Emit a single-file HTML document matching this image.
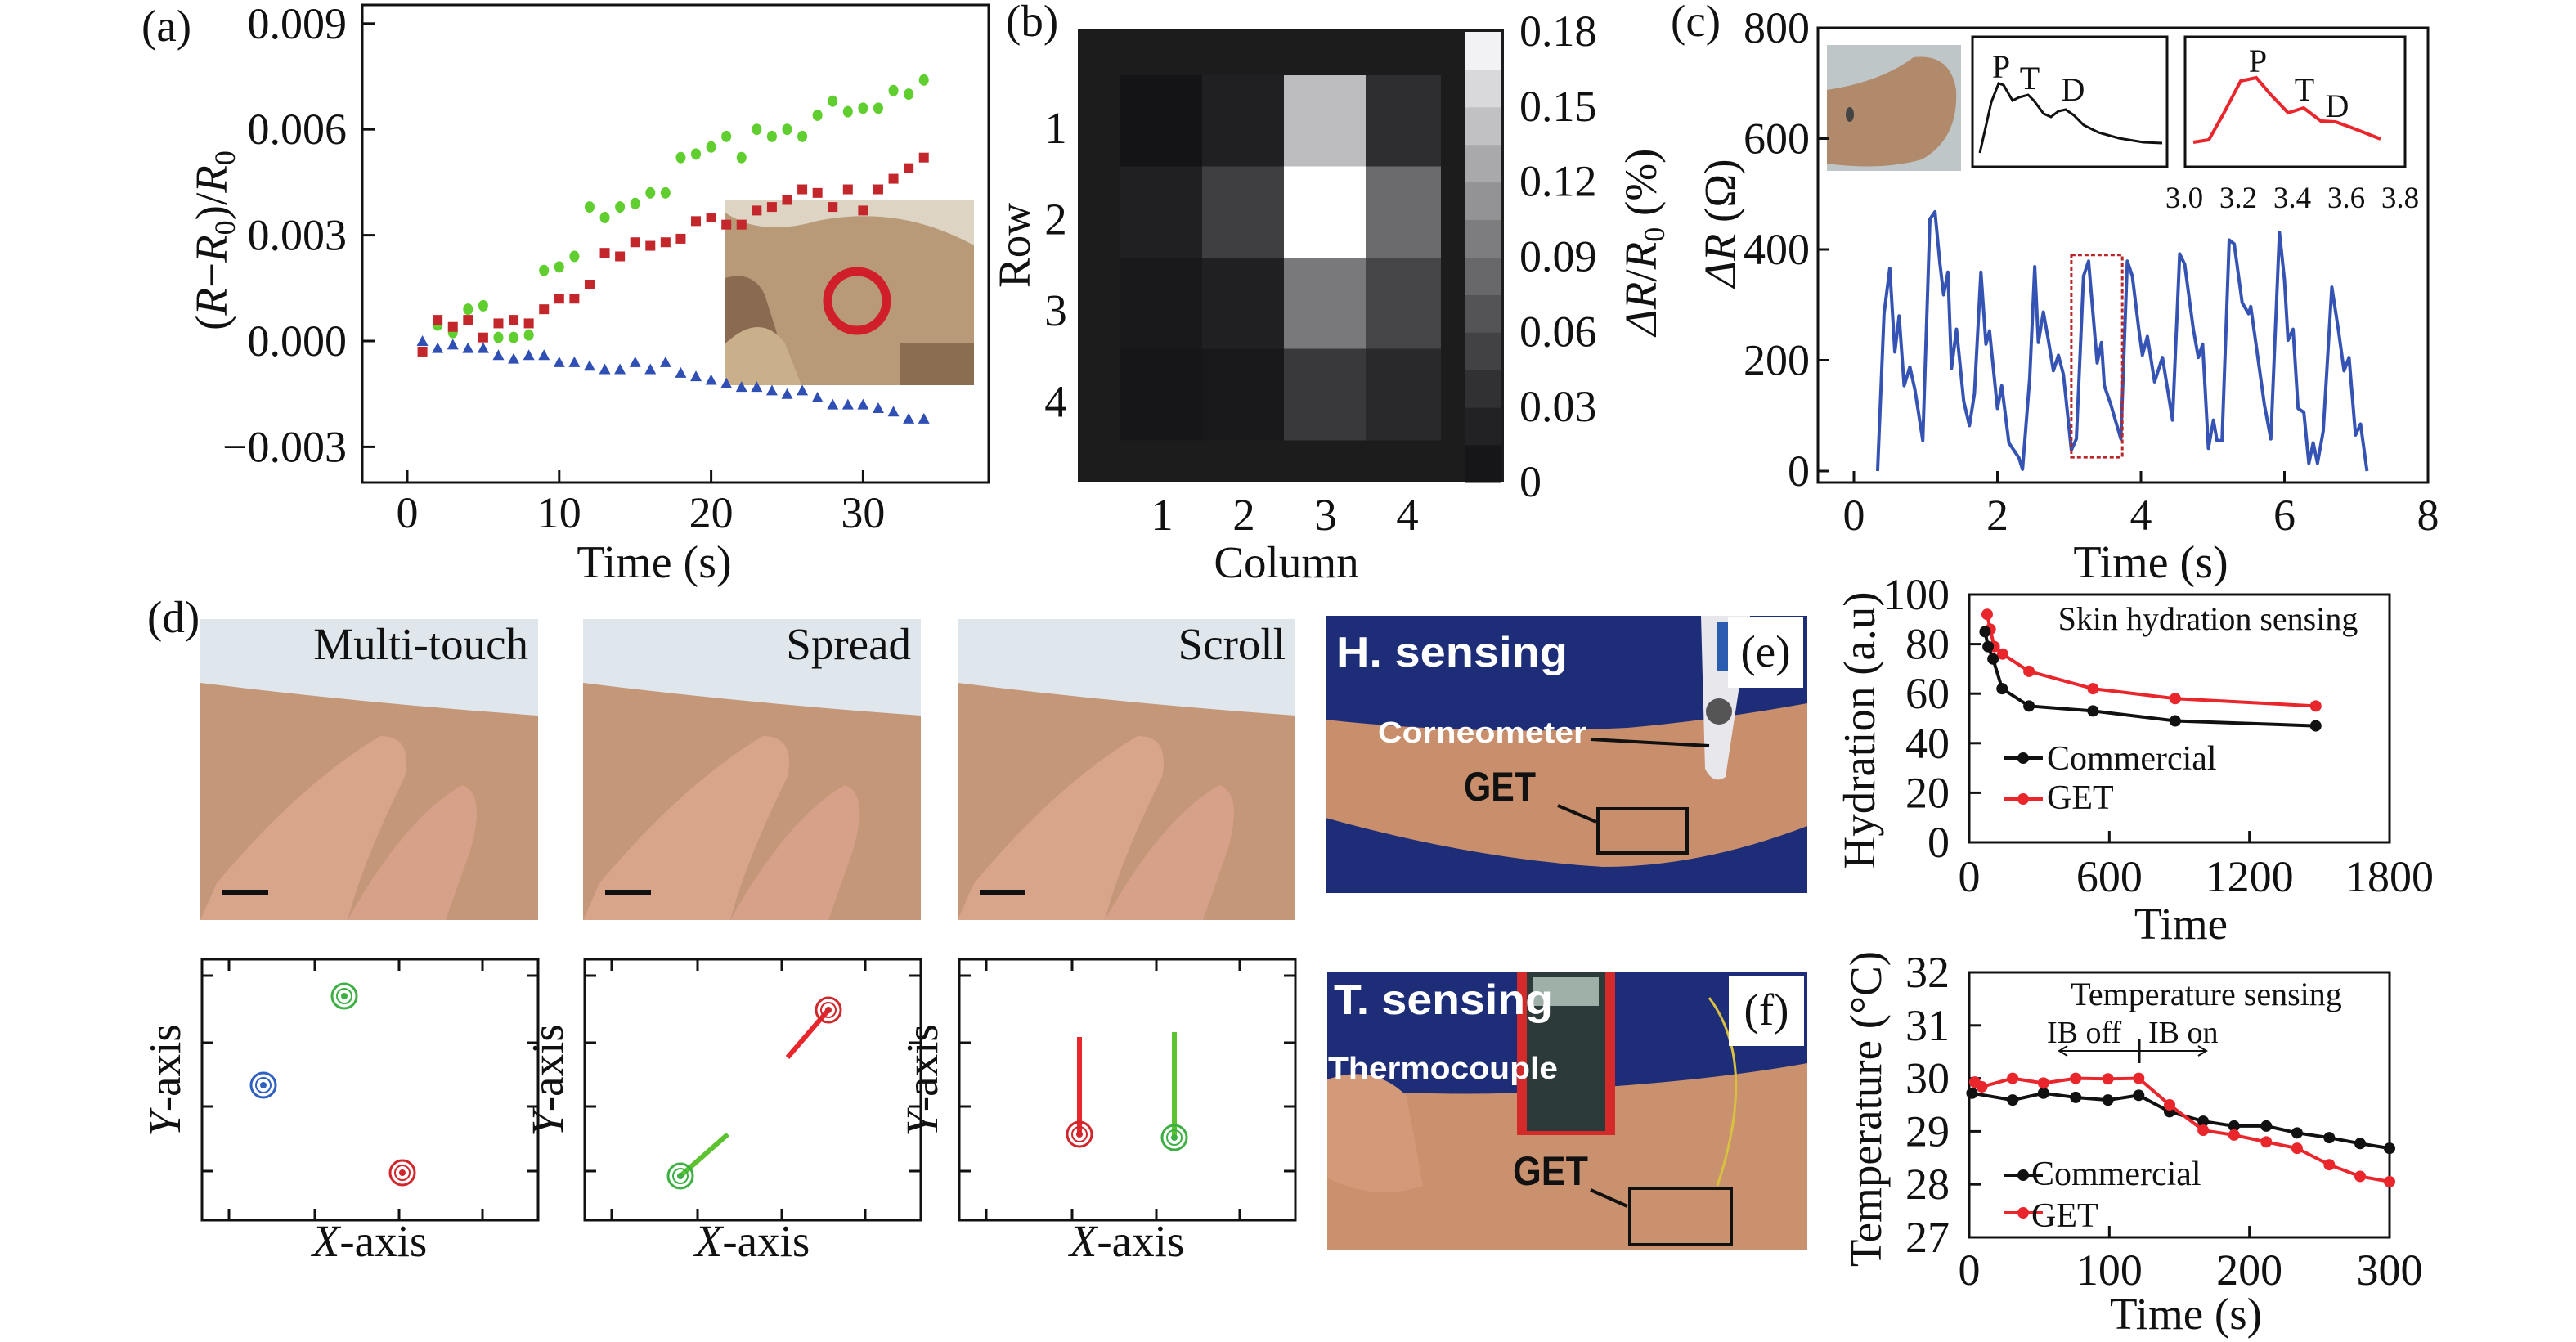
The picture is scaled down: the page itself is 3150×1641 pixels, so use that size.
<!DOCTYPE html>
<html><head><meta charset="utf-8"><style>
html,body{margin:0;padding:0;background:#fff;}
svg{display:block;}
text{font-family:"Liberation Serif",serif;fill:#111;}
.sans{font-family:"Liberation Sans",sans-serif;font-weight:bold;}
</style></head><body>
<svg id="fig" xmlns="http://www.w3.org/2000/svg" width="3150" height="1641" viewBox="0 0 3150 1641">
<g id="pa">
<text x="173" y="50" font-size="55">(a)</text>
<rect x="443" y="6" width="766" height="584" fill="none" stroke="#111" stroke-width="3"/>
<g>
<rect x="887" y="244" width="304" height="227" fill="#b89a78"/>
<path d="M887 244 H1191 V300 Q1100 250 1000 270 Q930 290 887 260 Z" fill="#ddd4c4"/>
<path d="M887 340 Q920 330 935 360 L970 471 H887 Z" fill="#8a6a50"/>
<path d="M887 420 Q930 380 960 420 L980 471 H887 Z" fill="#c9b08a"/>
<rect x="1100" y="420" width="91" height="51" fill="#6d5038" opacity="0.6"/>
<ellipse cx="1048" cy="368" rx="36" ry="36" fill="none" stroke="#d01e2a" stroke-width="11"/>
</g>
<text transform="translate(277,294) rotate(-90)" text-anchor="middle" font-size="55">(<tspan font-style="italic">R</tspan>−<tspan font-style="italic">R</tspan><tspan font-size="36" dy="10">0</tspan><tspan dy="-10">)/</tspan><tspan font-style="italic">R</tspan><tspan font-size="36" dy="10">0</tspan></text>
<text x="800" y="706" text-anchor="middle" font-size="56">Time (s)</text>
</g>
<g id="pb">
<text x="1230" y="44" font-size="55">(b)</text>
<rect x="1318" y="35" width="521" height="555" fill="#1c1c1c"/>
<text transform="translate(1259,300) rotate(-90)" text-anchor="middle" font-size="55">Row</text>
<text x="1573" y="706" text-anchor="middle" font-size="55">Column</text>
<text transform="translate(2025,296) rotate(-90)" text-anchor="middle" font-size="55"><tspan font-style="italic">ΔR</tspan>/<tspan font-style="italic">R</tspan><tspan font-size="36" dy="10">0</tspan><tspan dy="-10"> (%)</tspan></text>
</g>
<g id="pc">
<text x="2043" y="44" font-size="55">(c)</text>
<rect x="2223" y="34" width="746" height="556" fill="none" stroke="#111" stroke-width="3"/>
<g>
<rect x="2234" y="55" width="164" height="154" fill="#bfc6c8"/>
<path d="M2234 110 Q2300 100 2340 70 Q2385 65 2392 110 Q2395 170 2350 195 Q2300 209 2234 200 Z" fill="#b08a6a"/>
<ellipse cx="2262" cy="140" rx="5" ry="9" fill="#444"/>
</g>
<rect x="2412" y="45" width="238" height="159" fill="none" stroke="#111" stroke-width="3"/>
<rect x="2672" y="45" width="269" height="159" fill="none" stroke="#111" stroke-width="3"/>
<text x="2630" y="706" text-anchor="middle" font-size="56">Time (s)</text>
<text transform="translate(2122,273) rotate(-90)" text-anchor="middle" font-size="55"><tspan font-style="italic">ΔR</tspan> (Ω)</text>
</g>
<g id="pd">
<text x="180" y="773" font-size="55">(d)</text>
</g>
<g>
<rect x="1621" y="753" width="589" height="339" fill="#1e2d78"/>
<path d="M1621 880 Q1800 900 1990 890 Q2100 880 2210 860 V1010 Q2080 1060 1960 1060 Q1800 1050 1621 1000 Z" fill="#c98f6c"/>
<path d="M2080 753 H2140 L2110 950 Q2095 960 2085 940 Z" fill="#e8e8ec"/>
<rect x="2100" y="760" width="25" height="60" fill="#2a5cb0"/>
<circle cx="2102" cy="870" r="16" fill="#555"/>
<text class="sans" x="1634" y="815" font-size="52" style="fill:#fff" textLength="283" lengthAdjust="spacingAndGlyphs">H. sensing</text>
<text class="sans" x="1685" y="908" font-size="36" style="fill:#fff" textLength="255" lengthAdjust="spacingAndGlyphs">Corneometer</text>
<text class="sans" x="1790" y="979" font-size="50" textLength="88" lengthAdjust="spacingAndGlyphs">GET</text>
<line x1="1945" y1="904" x2="2090" y2="912" stroke="#111" stroke-width="4"/>
<line x1="1905" y1="985" x2="1952" y2="1005" stroke="#111" stroke-width="4"/>
<rect x="1954" y="989" width="109" height="54" fill="none" stroke="#111" stroke-width="4"/>
<rect x="2113" y="755" width="92" height="86" fill="#fff"/>
<text x="2159" y="815" text-anchor="middle" font-size="55">(e)</text>
</g>
<g>
<rect x="1623" y="1188" width="587" height="340" fill="#1e2d78"/>
<path d="M1623 1330 Q1800 1345 1950 1330 Q2100 1320 2210 1300 V1528 H1623 Z" fill="#c9916e"/>
<path d="M1623 1320 Q1680 1300 1720 1340 L1740 1450 Q1680 1470 1623 1440 Z" fill="#d29a78"/>
<rect x="1855" y="1188" width="120" height="200" fill="#d42a2a"/>
<rect x="1867" y="1188" width="96" height="195" fill="#2c3a3a"/>
<rect x="1875" y="1195" width="80" height="35" fill="#9fb0a8"/>
<text class="sans" x="1631" y="1240" font-size="52" style="fill:#fff" textLength="268" lengthAdjust="spacingAndGlyphs">T. sensing</text>
<text class="sans" x="1624" y="1319" font-size="38" style="fill:#fff" textLength="281" lengthAdjust="spacingAndGlyphs">Thermocouple</text>
<text class="sans" x="1850" y="1449" font-size="50" textLength="92" lengthAdjust="spacingAndGlyphs">GET</text>
<path d="M2090 1220 Q2150 1300 2100 1450" fill="none" stroke="#d8c040" stroke-width="3"/>
<line x1="1945" y1="1455" x2="1990" y2="1475" stroke="#111" stroke-width="4"/>
<rect x="1993" y="1453" width="124" height="69" fill="none" stroke="#111" stroke-width="4"/>
<rect x="2114" y="1193" width="92" height="86" fill="#fff"/>
<text x="2160" y="1253" text-anchor="middle" font-size="55">(f)</text>
</g>
<g id="ph">
<rect x="2408" y="727" width="514" height="303" fill="none" stroke="#111" stroke-width="3"/>
<text x="2700" y="770" text-anchor="middle" font-size="40">Skin hydration sensing</text>
<text x="2667" y="1148" text-anchor="middle" font-size="55">Time</text>
<text transform="translate(2292,893) rotate(-90)" text-anchor="middle" font-size="55">Hydration (a.u)</text>
</g>
<g id="pt">
<rect x="2408" y="1189" width="514" height="324" fill="none" stroke="#111" stroke-width="3"/>
<text x="2698" y="1229" text-anchor="middle" font-size="40">Temperature sensing</text>
<text x="2503" y="1275" font-size="38">IB off</text>
<text x="2627" y="1275" font-size="38">IB on</text>
<line x1="2518" y1="1285" x2="2698" y2="1285" stroke="#111" stroke-width="2"/>
<path d="M2528 1279 L2518 1285 L2528 1291 M2688 1279 L2698 1285 L2688 1291" fill="none" stroke="#111" stroke-width="2"/>
<line x1="2616" y1="1270" x2="2616" y2="1300" stroke="#111" stroke-width="3"/>
<text x="2673" y="1625" text-anchor="middle" font-size="55">Time (s)</text>
<text transform="translate(2300,1356) rotate(-90)" text-anchor="middle" font-size="55">Temperature (°C)</text>
</g>
</svg>
<script>
const aTimes = [1,2,3,4,5,6,7,8,9,10,11,12,13,14,15,16,17,18,19,20,21,22,23,24,25,26,27,28,29,30,31,32,33,34];
const aGreen = [null,0.00045,0.00024,0.0009,0.001,0.0001,0.0001,0.00017,0.002,0.0021,0.0024,0.0038,0.0035,0.0038,0.0039,0.0042,0.0042,0.0052,0.0053,0.0055,0.0058,0.0052,0.006,0.0058,0.006,0.0058,0.0064,0.0068,0.0065,0.0066,0.0066,0.0071,0.007,0.0074];
const aRed = [-0.0003,0.0006,0.0004,0.0006,0.0001,0.0005,0.0006,0.0005,0.0009,0.0012,0.0012,0.0016,0.0025,0.0024,0.0028,0.0027,0.0028,0.0029,0.0034,0.0035,0.0033,0.0033,0.0037,0.0038,0.004,0.0043,0.0042,0.0038,0.0043,0.0037,0.0043,0.0046,0.0049,0.0052];
const aBlue = [0,-0.0002,-0.0001,-0.0002,-0.0002,-0.0004,-0.0005,-0.0004,-0.0004,-0.0006,-0.0006,-0.0007,-0.0008,-0.0008,-0.0006,-0.0008,-0.0006,-0.0009,-0.001,-0.0011,-0.0012,-0.0013,-0.0013,-0.0014,-0.0015,-0.0014,-0.0016,-0.0018,-0.0018,-0.0018,-0.0019,-0.002,-0.0022,-0.0022];
const aYTicks = [0.009,0.006,0.003,0,-0.003];
const aYTickLabels = ["0.009","0.006","0.003","0.000","\u22120.003"];
const aXTicks = [0,10,20,30];
const bRows = [1,2,3,4];
const bCols = [1,2,3,4];
const bRow1 = [0.005,0.02,0.14,0.035];
const bRow2 = [0.02,0.05,0.18,0.085];
const bRow3 = [0.012,0.02,0.095,0.055];
const bRow4 = [0.008,0.01,0.045,0.03];
const bCbarTicks = [0.18,0.15,0.12,0.09,0.06,0.03,0];
const bCbarLabels = ["0.18","0.15","0.12","0.09","0.06","0.03","0"];
const cTimes = [0.33,0.42,0.50,0.57,0.63,0.70,0.78,0.85,0.96,1.06,1.13,1.20,1.25,1.31,1.36,1.43,1.53,1.61,1.68,1.77,1.84,1.89,2.00,2.06,2.16,2.30,2.35,2.45,2.52,2.57,2.64,2.71,2.78,2.85,2.92,3.03,3.10,3.20,3.27,3.39,3.45,3.49,3.58,3.72,3.81,3.88,3.97,4.02,4.09,4.19,4.30,4.44,4.54,4.61,4.73,4.80,4.86,4.94,5.01,5.06,5.13,5.23,5.30,5.41,5.50,5.53,5.60,5.72,5.81,5.93,6.00,6.05,6.12,6.19,6.27,6.34,6.40,6.46,6.54,6.66,6.75,6.83,6.90,6.99,7.06,7.15];
const cValues = [0,284,366,215,280,154,188,147,55,455,468,373,318,359,185,256,126,82,140,359,229,253,113,154,51,24,3,168,369,232,287,236,181,209,174,38,58,352,379,195,232,154,120,58,379,352,256,209,243,161,205,92,392,373,256,205,229,41,92,55,55,417,410,304,284,297,232,120,58,431,345,236,256,113,106,14,51,14,72,332,256,181,205,65,85,0];
const cXTicks = [0,2,4,6,8];
const cYTicks = [0,200,400,600,800];
const cBox = [3.03,3.74,25,390];
const cInsetLabels = ["3.0","3.2","3.4","3.6","3.8"];
const hTimesCom = [68,81,102,141,256,530,882,1484];
const hValsCom = [85,79,74,62,55,53,49,47];
const hTimesGet = [77,90,107,143,256,530,882,1484];
const hValsGet = [92,86,79,76,69,62,58,55];
const hXTicks = [0,600,1200,1800];
const hYTicks = [0,20,40,60,80,100];
const tTimesCom = [2,31,53,76,99,121,143,167,189,212,234,257,279,300];
const tValsCom = [29.72,29.59,29.72,29.64,29.59,29.68,29.37,29.19,29.1,29.1,28.97,28.88,28.77,28.68];
const tTimesGet = [4,9,31,53,76,99,121,143,167,189,212,234,257,279,300];
const tValsGet = [29.93,29.84,30.0,29.91,30.0,29.99,30.0,29.5,29.02,28.93,28.8,28.68,28.37,28.15,28.05];
const tXTicks = [0,100,200,300];
const tYTicks = [27,28,29,30,31,32];

const NS = "http://www.w3.org/2000/svg";
const svg = document.getElementById('fig');
function mk(tag, attrs, parent){
  const e = document.createElementNS(NS, tag);
  for (const k in attrs) e.setAttribute(k, attrs[k]);
  (parent || svg).appendChild(e);
  return e;
}
const xA = t => 498 + t*18.58;
const yA = v => 417 - v/0.003*129.4;
const xC = t => 2267 + t*87.75;
const yC = v => 576 - v*0.6775;
const xH = t => 2408 + t*514/1800;
const yH = v => 1030 - v*3.03;
const xT = t => 2408 + t*514/300;
const yT = v => 1189 + (32 - v)*64.8;
const colX = c => 1370 + (c-1)*100;
const rowY = r => 92 + (r-1)*111.5;
const grayOf = v => Math.round(18 + 237*Math.pow(Math.max(0,v)/0.18,1.3));

const ga = document.getElementById('pa');
aYTicks.forEach((v,i)=>{
  const l = mk('line',{x1:443,x2:458,y1:yA(v),y2:yA(v),stroke:'#111','stroke-width':3},ga);
  
  
  const t = mk('text',{x:424,y:yA(v)+18,'text-anchor':'end','font-size':54},ga);
  t.textContent = aYTickLabels[i];
  
  
});
aXTicks.forEach(v=>{
  const l = mk('line',{x1:xA(v),x2:xA(v),y1:590,y2:575,stroke:'#111','stroke-width':3},ga);
  
  
  const t = mk('text',{x:xA(v),y:645,'text-anchor':'middle','font-size':54},ga);
  t.textContent = String(v);
  
  
});
aTimes.forEach((t,i)=>{
  if (aGreen[i]!==null){
    const g = mk('ellipse',{cx:xA(t),cy:yA(aGreen[i]),rx:6,ry:7,fill:'#5fce2e'},ga);
    
    
  }
  const r = mk('rect',{x:xA(t)-6,y:yA(aRed[i])-6,width:12,height:12,fill:'#c3262b'},ga);
  
  
  const x = xA(t), y = yA(aBlue[i]);
  const b = mk('path',{d:`M${x-7} ${y+6} L${x} ${y-7} L${x+7} ${y+6} Z`,fill:'#2f4fb5'},ga);
  
  
});

const gb = document.getElementById('pb');
const bData = [bRow1,bRow2,bRow3,bRow4];
bRows.forEach((r,ri)=>{
  bCols.forEach((c,ci)=>{
    const g = grayOf(bData[ri][ci]);
    const cell = mk('rect',{x:colX(c),y:rowY(r),width:c===4?92:101,height:112,fill:`rgb(${g},${g},${g+2})`},gb);
    
    
  });
  const t = mk('text',{x:1291,y:rowY(r)+83,'text-anchor':'middle','font-size':55},gb);
  t.textContent = String(r);
  
  
});
bCols.forEach(c=>{
  const t = mk('text',{x:colX(c)+51,y:648,'text-anchor':'middle','font-size':55},gb);
  t.textContent = String(c);
  
  
});
const cbY = v => 590 - v/0.18*551;
for (let k=0;k<12;k++){
  const v0 = k*0.015, v1 = (k+1)*0.015;
  const g = grayOf(v0+0.0075);
  const band = mk('rect',{x:1792,y:cbY(v1),width:43,height:cbY(v0)-cbY(v1)+0.5,fill:`rgb(${g},${g},${g+2})`},gb);
  
  
}
bCbarTicks.forEach((v,i)=>{
  const t = mk('text',{x:1858,y:cbY(v)+17,'font-size':54},gb);
  t.textContent = bCbarLabels[i];
  
  
});

const gc = document.getElementById('pc');
cXTicks.forEach(v=>{
  const l = mk('line',{x1:xC(v),x2:xC(v),y1:590,y2:576,stroke:'#111','stroke-width':3},gc);
  
  
  const t = mk('text',{x:xC(v),y:648,'text-anchor':'middle','font-size':54},gc);
  t.textContent = String(v);
  
  
});
cYTicks.forEach(v=>{
  const l = mk('line',{x1:2223,x2:2237,y1:yC(v),y2:yC(v),stroke:'#111','stroke-width':3},gc);
  
  
  const t = mk('text',{x:2213,y:yC(v)+18,'text-anchor':'end','font-size':54},gc);
  t.textContent = String(v);
  
  
});
const cLine = mk('polyline',{points:cTimes.map((t,i)=>xC(t)+','+yC(cValues[i])).join(' '),fill:'none',stroke:'#3553b3','stroke-width':4,'stroke-linejoin':'round'},gc);


const box = mk('rect',{x:xC(cBox[0]),y:yC(cBox[3]),width:xC(cBox[1])-xC(cBox[0]),height:yC(cBox[2])-yC(cBox[3]),fill:'none',stroke:'#b8282a','stroke-width':3,'stroke-dasharray':'5,3'},gc);


cInsetLabels.forEach((s,i)=>{
  const t = mk('text',{x:2671+i*66,y:254,'text-anchor':'middle','font-size':37},gc);
  t.textContent = s;
  
  
});
const ins1 = mk('path',{d:'M2421 187 L2435 125 L2444 102 L2450 104 L2461 123 L2469 119 L2480 116 L2487 123 L2499 139 L2508 143 L2517 136 L2526 134 L2536 141 L2548 153 L2566 162 L2591 169 L2621 174 L2644 175',fill:'none',stroke:'#111','stroke-width':3},gc);


const ins2 = mk('path',{d:'M2682 174 L2701 171 L2719 139 L2740 99 L2759 95 L2777 116 L2798 138 L2817 132 L2838 148 L2856 149 L2878 157 L2911 170',fill:'none',stroke:'#e8262c','stroke-width':4},gc);


[['P',2447,95],['T',2482,109],['D',2535,123],['P',2761,88],['T',2818,123],['D',2858,143]].forEach(a=>{
  const t = mk('text',{x:a[1],y:a[2],'text-anchor':'middle','font-size':40},gc);
  t.textContent = a[0];
  
  
});

const gd = document.getElementById('pd');
const photoX = [245,713,1171];
const photoTitles = ["Multi-touch","Spread","Scroll"];
photoX.forEach((px,i)=>{
  const g = mk('g',{},gd);
  
  
  mk('rect',{x:px,y:757,width:413,height:368,fill:'#dfe6ec'},g);
  mk('path',{d:`M${px} 835 Q${px+200} 860 ${px+413} 875 V1125 H${px} Z`,fill:'#c49779'},g);
  mk('path',{d:`M${px+20} 1080 Q${px+120} 960 ${px+220} 900 Q${px+260} 900 ${px+250} 950 Q${px+200} 1050 ${px+180} 1125 H${px} Z`,fill:'#d8a48a'},g);
  mk('path',{d:`M${px+180} 1125 Q${px+250} 1000 ${px+320} 960 Q${px+350} 970 ${px+330} 1040 L${px+300} 1125 Z`,fill:'#d7a088'},g);
  mk('line',{x1:px+27,x2:px+83,y1:1091,y2:1091,stroke:'#111','stroke-width':6},g);
  const t = mk('text',{x:px+401,y:806,'text-anchor':'end','font-size':55},gd);
  t.textContent = photoTitles[i];
  
  
  const fx = px+2;
  const fr = mk('rect',{x:fx,y:1173,width:411,height:319,fill:'none',stroke:'#111','stroke-width':3},gd);
  
  
  [1193,1275,1353,1432].forEach(y=>{
    mk('line',{x1:fx,x2:fx+14,y1:y,y2:y,stroke:'#111','stroke-width':3},gd);
    mk('line',{x1:fx+411,x2:fx+397,y1:y,y2:y,stroke:'#111','stroke-width':3},gd);
  });
  [33,138,241,343].forEach(dx=>{
    mk('line',{x1:fx+dx,x2:fx+dx,y1:1173,y2:1187,stroke:'#111','stroke-width':3},gd);
    mk('line',{x1:fx+dx,x2:fx+dx,y1:1492,y2:1478,stroke:'#111','stroke-width':3},gd);
  });
  const xl = mk('text',{x:fx+205,y:1536,'text-anchor':'middle','font-size':55},gd);
  xl.innerHTML = '<tspan font-style="italic">X</tspan>-axis';
  
  
  const yl = mk('text',{transform:`translate(${fx-27},1321) rotate(-90)`,'text-anchor':'middle','font-size':55},gd);
  yl.innerHTML = '<tspan font-style="italic">Y</tspan>-axis';
  
  
});
function target(x,y,col){
  const g = mk('g',{},gd);
  
  
  mk('circle',{cx:x,cy:y,r:15,fill:'none',stroke:col,'stroke-width':3},g);
  mk('circle',{cx:x,cy:y,r:9,fill:'none',stroke:col,'stroke-width':2},g);
  mk('circle',{cx:x,cy:y,r:4,fill:col},g);
}
target(421,1218,'#3cb043'); target(322,1327,'#2f5fc0'); target(492,1434,'#d0262c');
[[1013,1235,963,1293,'#e8262c'],[832,1438,890,1387,'#5cc230'],[1320,1387,1320,1268,'#e8262c'],[1436,1391,1436,1262,'#5cc230']].forEach(a=>{
  const l = mk('line',{x1:a[0],y1:a[1],x2:a[2],y2:a[3],stroke:a[4],'stroke-width':6},gd);
  
  
});
target(1013,1235,'#d0262c'); target(832,1438,'#3cb043'); target(1320,1387,'#d0262c'); target(1436,1391,'#3cb043');

const gh = document.getElementById('ph');
hXTicks.forEach(v=>{
  if (v>0 && v<1800) mk('line',{x1:xH(v),x2:xH(v),y1:1030,y2:1016,stroke:'#111','stroke-width':3},gh);
  const t = mk('text',{x:xH(v),y:1090,'text-anchor':'middle','font-size':54},gh);
  t.textContent = String(v);
  
  
});
hYTicks.forEach(v=>{
  mk('line',{x1:2408,x2:2422,y1:yH(v),y2:yH(v),stroke:'#111','stroke-width':3},gh);
  const t = mk('text',{x:2384,y:yH(v)+18,'text-anchor':'end','font-size':54},gh);
  t.textContent = String(v);
  
  
});
function series(g, xs, ys, fx, fy, col, name){
  const pl = mk('polyline',{points:xs.map((t,i)=>fx(t)+','+fy(ys[i])).join(' '),fill:'none',stroke:col,'stroke-width':4},g);
  
  
  xs.forEach((t,i)=>{
    const c = mk('circle',{cx:fx(t),cy:fy(ys[i]),r:7,fill:col},g);
    
    
  });
}
series(gh,hTimesGet,hValsGet,xH,yH,'#e8262c','hydration-get');
series(gh,hTimesCom,hValsCom,xH,yH,'#111','hydration-commercial');
function legend(g,y1,t1,y2,t2,x0,xt){
  const a = mk('line',{x1:x0,x2:x0+48,y1:y1,y2:y1,stroke:'#111','stroke-width':4},g);
  
  
  mk('circle',{cx:x0+24,cy:y1,r:7,fill:'#111'},g);
  const b = mk('line',{x1:x0,x2:x0+48,y1:y2,y2:y2,stroke:'#e8262c','stroke-width':4},g);
  
  
  mk('circle',{cx:x0+24,cy:y2,r:7,fill:'#e8262c'},g);
  const ta = mk('text',{x:xt,y:t1,'font-size':42},g);
  ta.textContent = 'Commercial';
  
  
  const tb = mk('text',{x:xt,y:t2,'font-size':42},g);
  tb.textContent = 'GET';
  
  
}
legend(gh,927,941,977,989,2450,2503);

const gt = document.getElementById('pt');
tXTicks.forEach(v=>{
  if (v>0 && v<300) mk('line',{x1:xT(v),x2:xT(v),y1:1513,y2:1499,stroke:'#111','stroke-width':3},gt);
  const t = mk('text',{x:xT(v),y:1571,'text-anchor':'middle','font-size':54},gt);
  t.textContent = String(v);
  
  
});
tYTicks.forEach(v=>{
  mk('line',{x1:2408,x2:2422,y1:yT(v),y2:yT(v),stroke:'#111','stroke-width':3},gt);
  const t = mk('text',{x:2384,y:yT(v)+18,'text-anchor':'end','font-size':54},gt);
  t.textContent = String(v);
  
  
});
series(gt,tTimesCom,tValsCom,xT,yT,'#111','temperature-commercial');
series(gt,tTimesGet,tValsGet,xT,yT,'#e8262c','temperature-get');
legend(gt,1437,1449,1483,1500,2450,2484);
</script>
</body></html>
